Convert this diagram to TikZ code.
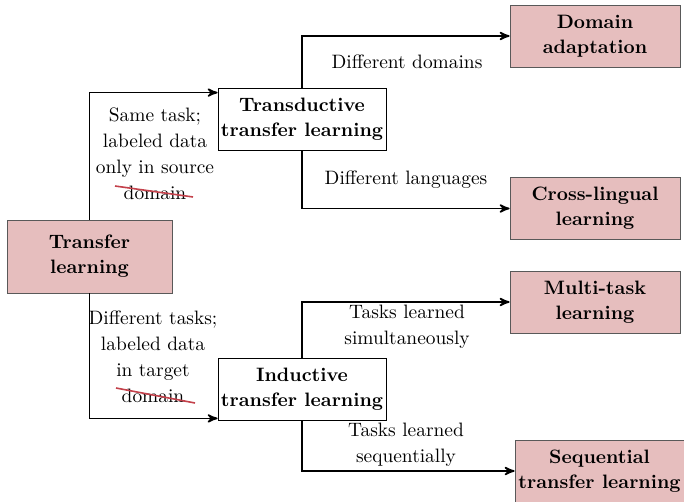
\documentclass[tikz,border=0pt]{standalone}
\usepackage{xcolor}
\usetikzlibrary{arrows}

\definecolor{boxpink}{RGB}{230,190,190}
\definecolor{strikered}{RGB}{195,65,75}

\begin{document}
\begin{tikzpicture}[->,>=stealth',x=0.5pt,y=-0.5pt,
    every node/.style={font=\fontsize{9.7}{13}\selectfont},
    topic/.style={rectangle,draw=black!65,fill=boxpink,align=center,inner xsep=1pt,
        minimum width=85pt,minimum height=31pt,font=\fontsize{9.7}{12.5}\selectfont\bfseries},
    method/.style={rectangle,draw,fill=white,align=center,inner xsep=1pt,
        minimum width=84pt,minimum height=31pt,font=\fontsize{9.7}{12.5}\selectfont\bfseries},
    cond/.style={align=center},
    strike/.style={-,draw=strikered,line width=0.8pt}]

    \useasboundingbox (0,0) rectangle (684,502);

    % main nodes
    \node[topic,minimum width=82.5pt,minimum height=36.5pt] (tl) at (89.5,256.5) {Transfer\\learning};

    \node[method] (td) at (302,119) {Transductive\\transfer learning};
    \node[method] (id) at (302,389) {Inductive\\transfer learning};

    \node[topic] (da) at (595,36) {Domain\\adaptation};
    \node[topic] (cl) at (595,208.5) {Cross-lingual\\learning};
    \node[topic] (mt) at (595,302) {Multi-task\\learning};
    \node[topic,minimum width=84.5pt] (sq) at (599.5,471) {Sequential\\transfer learning};

    % condition labels
    \node[cond] (samelbl) at (155,154) {Same task;\\labeled data\\only in source\\domain};
    \node[cond] (difflbl) at (153,357) {Different tasks;\\labeled data\\in target\\domain};
    \draw[strike] (115,186) -- (193,197);
    \draw[strike] (116,388) -- (195,403);

    \node[cond] (domlbl) at (407,62) {Different domains};
    \node[cond] (lanlbl) at (406,180) {Different languages};
    \node[cond] (simlbl) at (407,327) {Tasks learned\\simultaneously};
    \node[cond] (seqlbl) at (406,445) {Tasks learned\\sequentially};

    % connectors
    \draw[thick] (tl.north) |- ([yshift=-2.5pt]td.north west);
    \draw[thick] (tl.south) |- ([yshift=1pt]id.south west);
    \draw[thick] (td.north) |- (da.west);
    \draw[thick] (td.south) |- (cl.west);
    \draw[thick] (id.north) |- (mt.west);
    \draw[thick] (id.south) |- (sq.west);

\end{tikzpicture}
\end{document}
